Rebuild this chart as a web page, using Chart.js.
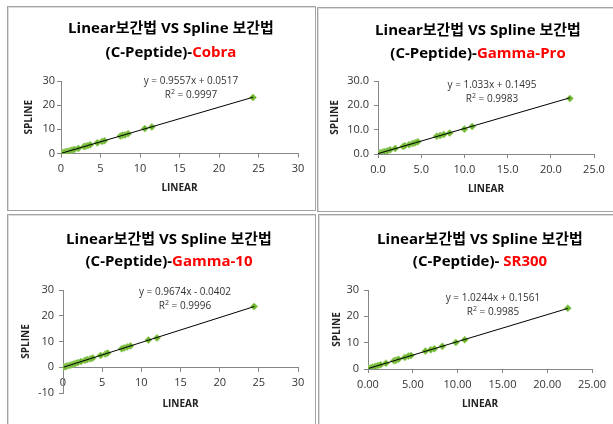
<!DOCTYPE html>
<html>
<head>
<meta charset="UTF-8">
<title>Linear vs Spline</title>
<script src="https://cdn.jsdelivr.net/npm/chart.js@4.4.1/dist/chart.umd.min.js"></script>
<style>
  * { margin: 0; padding: 0; }
  body { width: 613px; height: 424px; overflow: hidden; background: #fff; position: relative;
         font-family: 'Open Sans', 'Noto Sans CJK KR', sans-serif; }
  .panel { position: absolute; box-sizing: border-box; border: 1px solid #a3a3a3;
           box-shadow: inset 1px 1px 0 #dcdcdc; }
  canvas { position: absolute; }
  .ttl { position: absolute; transform: translate(-50%, -50%); white-space: nowrap;
         font-weight: bold; font-size: 15px; color: #000; }
  .ttl span { color: #ff0000; }
  .eq { position: absolute; transform: translate(-50%, -50%); white-space: nowrap;
        font-size: 10px; color: #333; }
  .eq sup { font-size: 7px; vertical-align: 4px; }
</style>
</head>
<body>
<div class="panel" style="left:7px;top:6px;width:309px;height:205px"></div>
<div class="panel" style="left:317px;top:7px;width:300px;height:205px"></div>
<div class="panel" style="left:7px;top:214px;width:309px;height:215px"></div>
<div class="panel" style="left:318px;top:214px;width:300px;height:215px"></div>

<canvas id="c1" width="306" height="202" style="left:8px;top:7px"></canvas>
<canvas id="c2" width="295" height="202" style="left:318px;top:8px"></canvas>
<canvas id="c3" width="306" height="209" style="left:8px;top:215px"></canvas>
<canvas id="c4" width="294" height="209" style="left:319px;top:215px"></canvas>

<div class="ttl" style="left:171px;top:26px">Linear보간법 VS Spline 보간법</div>
<div class="ttl" style="left:171px;top:51px">(C-Peptide)-<span>Cobra</span></div>
<div class="eq" style="left:191px;top:80px">y = 0.9557x + 0.0517</div>
<div class="eq" style="left:191px;top:94px">R<sup>2</sup> = 0.9997</div>

<div class="ttl" style="left:478px;top:28px">Linear보간법 VS Spline 보간법</div>
<div class="ttl" style="left:478px;top:52px">(C-Peptide)-<span>Gamma-Pro</span></div>
<div class="eq" style="left:492px;top:84px">y = 1.033x + 0.1495</div>
<div class="eq" style="left:492px;top:98px">R<sup>2</sup> = 0.9983</div>

<div class="ttl" style="left:169px;top:237px">Linear보간법 VS Spline 보간법</div>
<div class="ttl" style="left:169px;top:260px">(C-Peptide)-<span>Gamma-10</span></div>
<div class="eq" style="left:185px;top:291px">y = 0.9674x - 0.0402</div>
<div class="eq" style="left:185px;top:305px">R<sup>2</sup> = 0.9996</div>

<div class="ttl" style="left:480px;top:237px">Linear보간법 VS Spline 보간법</div>
<div class="ttl" style="left:480px;top:260px">(C-Peptide)- <span>SR300</span></div>
<div class="eq" style="left:493px;top:297px">y = 1.0244x + 0.1561</div>
<div class="eq" style="left:493px;top:311px">R<sup>2</sup> = 0.9985</div>

<script>
// Cobra
var cobraLinear = [0.1, 0.2, 0.3, 0.5, 0.7, 0.9, 1.2, 1.4, 1.7, 2.2, 2.9, 3.1, 3.4, 3.7, 4.6, 5.2, 5.5, 7.5, 7.8, 8.1, 8.5, 10.6, 11.5, 24.3];
var cobraSpline = [0.2, 0.2, 0.4, 0.6, 0.8, 0.9, 1.2, 1.4, 1.7, 2.1, 2.9, 3.0, 3.3, 3.6, 4.4, 5.0, 5.3, 7.2, 7.6, 7.7, 8.2, 10.3, 11.0, 23.2];
var cobraTrend = [[0.1, 0.15], [24.3, 23.28]];

// Gamma-Pro
var proLinear = [0.0, 0.1, 0.2, 0.4, 0.6, 0.8, 1.1, 1.4, 2.0, 2.9, 3.1, 3.6, 4.0, 4.3, 4.6, 6.8, 7.2, 7.6, 8.3, 10.0, 10.9, 22.2];
var proSpline = [0.1, 0.2, 0.4, 0.6, 0.8, 1.0, 1.3, 1.7, 2.3, 3.1, 3.4, 3.8, 4.3, 4.6, 5.0, 7.3, 7.6, 8.0, 8.6, 10.2, 11.3, 22.8];
var proTrend = [[0.0, 0.15], [22.2, 23.08]];

// Gamma-10
var g10Linear = [0.1, 0.3, 0.5, 0.8, 1.0, 1.3, 1.6, 1.9, 2.3, 2.8, 3.1, 3.5, 3.8, 4.8, 5.4, 5.7, 7.5, 7.8, 8.2, 8.6, 10.9, 12.0, 24.4];
var g10Spline = [0.1, 0.2, 0.5, 0.7, 0.9, 1.2, 1.5, 1.8, 2.2, 2.7, 3.0, 3.3, 3.6, 4.6, 5.1, 5.5, 7.2, 7.5, 7.9, 8.3, 10.6, 11.4, 23.6];
var g10Trend = [[0.1, 0.06], [24.4, 23.56]];

// SR300
var srLinear = [0.1, 0.3, 0.5, 0.8, 1.1, 1.4, 2.0, 2.9, 3.1, 3.4, 4.1, 4.5, 4.8, 6.4, 7.0, 7.4, 8.3, 9.8, 10.8, 22.3];
var srSpline = [0.2, 0.4, 0.7, 1.0, 1.3, 1.6, 2.2, 3.1, 3.3, 3.7, 4.4, 4.9, 5.1, 6.8, 7.3, 7.7, 8.6, 10.1, 11.1, 23.1];
var srTrend = [[0.1, 0.26], [22.3, 23.0]];

Chart.defaults.font.family = "'Open Sans', 'Noto Sans CJK KR', sans-serif";
Chart.defaults.color = '#333';

function pts(xs, ys) {
  return xs.map(function (x, i) { return { x: x, y: ys[i] }; });
}

function build(id, c) {
  var cv = document.getElementById(id);
  var w = cv.width, h = cv.height, a = c.area;
  var half = 10; // title lineHeight/2 + padding
  var padL = c.yTitleX - half;
  var W = a.l - padL;
  var H, padB;
  if (c.xAtZero) {
    var zero = a.b - (0 - c.yMin) / (c.yMax - c.yMin) * (a.b - a.t);
    H = c.xTitleY + half - zero;
    padB = h - a.b;
  } else {
    H = c.xTitleY + half - a.b;
    padB = h - (c.xTitleY + half);
  }
  var axisGrid = { drawOnChartArea: false, drawTicks: true, tickLength: 4, color: '#868686' };
  return new Chart(cv, {
    type: 'scatter',
    data: {
      datasets: [
        {
          data: c.trend.map(function (p) { return { x: p[0], y: p[1] }; }),
          showLine: true, borderColor: '#000', borderWidth: 1, pointRadius: 0
        },
        {
          data: pts(c.xs, c.ys),
          pointStyle: 'rectRot', pointRadius: 3.5,
          backgroundColor: '#6cb52d', borderColor: 'rgba(150,205,100,0.85)', borderWidth: 1
        }
      ]
    },
    options: {
      responsive: false,
      animation: false,
      devicePixelRatio: 1,
      layout: { padding: { left: padL, right: w - a.r, top: a.t, bottom: padB } },
      plugins: { legend: { display: false }, tooltip: { enabled: false } },
      scales: {
        x: {
          type: 'linear',
          position: c.xAtZero ? { y: 0 } : 'bottom',
          min: c.xMin, max: c.xMax,
          ticks: { stepSize: c.xStep, padding: 5, font: { size: 11 }, maxRotation: 0,
                   callback: function (v) { return v.toFixed(c.xDec); } },
          grid: axisGrid,
          border: { color: '#868686' },
          title: { display: true, text: 'LINEAR', font: { size: 10, weight: 'bold' }, color: '#222' },
          afterFit: function (s) { s.height = H; s.paddingLeft = 0; s.paddingRight = 0; }
        },
        y: {
          min: c.yMin, max: c.yMax,
          ticks: { stepSize: c.yStep, padding: c.yPad, font: { size: 11 },
                   callback: function (v) { return v.toFixed(c.yDec); } },
          grid: axisGrid,
          border: { color: '#868686' },
          title: { display: true, text: 'SPLINE', font: { size: 10, weight: 'bold' }, color: '#222' },
          afterFit: function (s) { s.width = W; s.paddingTop = 0; s.paddingBottom = 0; }
        }
      }
    }
  });
}

build('c1', {
  area: { l: 53, r: 290, t: 74, b: 146.5 }, yTitleX: 21, xTitleY: 181,
  xMin: 0, xMax: 30, xStep: 5, xDec: 0, yMin: 0, yMax: 30, yStep: 10, yDec: 0, yPad: 2,
  xs: cobraLinear, ys: cobraSpline, trend: cobraTrend
});
build('c2', {
  area: { l: 60, r: 276, t: 73, b: 146 }, yTitleX: 17, xTitleY: 181,
  xMin: 0, xMax: 25, xStep: 5, xDec: 1, yMin: 0, yMax: 30, yStep: 10, yDec: 1, yPad: 5,
  xs: proLinear, ys: proSpline, trend: proTrend
});
build('c3', {
  area: { l: 55, r: 290, t: 75, b: 178 }, yTitleX: 18, xTitleY: 189, xAtZero: true,
  xMin: 0, xMax: 30, xStep: 5, xDec: 0, yMin: -10, yMax: 30, yStep: 10, yDec: 0, yPad: 5,
  xs: g10Linear, ys: g10Spline, trend: g10Trend
});
build('c4', {
  area: { l: 49, r: 273, t: 75, b: 154 }, yTitleX: 18, xTitleY: 189,
  xMin: 0, xMax: 25, xStep: 5, xDec: 2, yMin: 0, yMax: 30, yStep: 10, yDec: 0, yPad: 5,
  xs: srLinear, ys: srSpline, trend: srTrend
});
</script>
</body>
</html>
